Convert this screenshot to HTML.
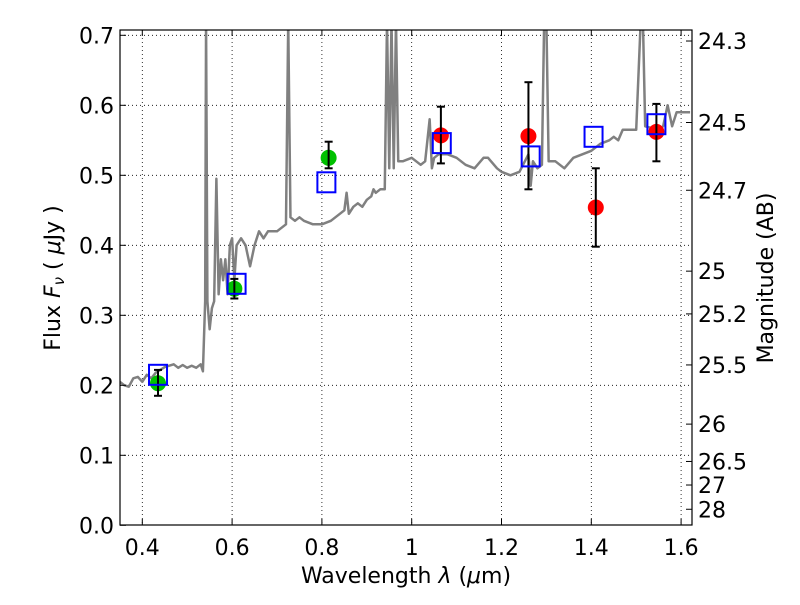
<!DOCTYPE html>
<html><head><meta charset="utf-8"><style>
body{margin:0;background:#fff}
text{font-family:"DejaVu Sans","Liberation Sans",sans-serif;fill:#000}
</style></head><body>
<svg id="chart" width="800" height="600" xmlns="http://www.w3.org/2000/svg">
<rect width="800" height="600" fill="#fff"/>
<g id="grid"></g>
<g id="spec"></g>
<g id="marks"></g>
<rect x="120" y="30" width="572" height="495" fill="none" stroke="#000" stroke-width="1.2"/>
<g id="ticks"></g>
<text x="406" y="583" font-size="22" text-anchor="middle">Wavelength  <tspan font-style="italic">λ</tspan> (<tspan font-style="italic">μ</tspan>m)</text>
<text transform="translate(60,278) rotate(-90)" font-size="22" text-anchor="middle">Flux  <tspan font-style="italic">F</tspan><tspan font-style="italic" font-size="15" dy="4">ν</tspan><tspan dy="-4">  ( </tspan><tspan font-style="italic">μ</tspan>Jy )</text>
<text transform="translate(773,278) rotate(-90)" font-size="22" text-anchor="middle">Magnitude (AB)</text>
</svg>
<script>
const specX=[0.35,0.36,0.37,0.38,0.39,0.40,0.41,0.42,0.43,0.44,0.45,0.46,0.47,0.48,0.49,0.50,0.51,0.52,0.53,0.535,0.54,0.542,0.545,0.55,0.555,0.56,0.565,0.57,0.575,0.58,0.585,0.59,0.595,0.60,0.605,0.61,0.62,0.63,0.64,0.65,0.66,0.67,0.68,0.70,0.71,0.72,0.725,0.73,0.74,0.75,0.76,0.78,0.80,0.82,0.83,0.84,0.85,0.855,0.86,0.87,0.88,0.89,0.90,0.91,0.915,0.92,0.93,0.94,0.945,0.95,0.955,0.96,0.965,0.97,0.98,1.0,1.01,1.02,1.03,1.04,1.045,1.05,1.06,1.08,1.10,1.12,1.14,1.16,1.17,1.19,1.20,1.22,1.24,1.26,1.265,1.27,1.28,1.29,1.295,1.30,1.305,1.32,1.34,1.36,1.38,1.40,1.42,1.44,1.45,1.46,1.47,1.50,1.51,1.515,1.52,1.55,1.56,1.57,1.58,1.59,1.62];
const specY=[0.205,0.2,0.198,0.21,0.212,0.205,0.215,0.21,0.218,0.222,0.226,0.228,0.23,0.225,0.229,0.225,0.228,0.225,0.23,0.22,0.32,0.72,0.32,0.28,0.31,0.32,0.495,0.33,0.38,0.35,0.38,0.33,0.40,0.41,0.35,0.40,0.41,0.40,0.37,0.40,0.42,0.41,0.42,0.42,0.425,0.43,0.72,0.44,0.435,0.44,0.435,0.43,0.43,0.435,0.44,0.445,0.45,0.475,0.445,0.455,0.46,0.455,0.465,0.47,0.48,0.475,0.48,0.48,0.72,0.51,0.72,0.51,0.72,0.52,0.52,0.525,0.52,0.515,0.52,0.58,0.51,0.525,0.53,0.53,0.525,0.515,0.51,0.525,0.525,0.51,0.505,0.5,0.505,0.53,0.485,0.52,0.51,0.515,0.72,0.72,0.52,0.52,0.51,0.525,0.53,0.535,0.545,0.55,0.555,0.55,0.565,0.565,0.72,0.72,0.57,0.565,0.57,0.6,0.57,0.59,0.59];
const ptX=[0.435,0.605,0.815,1.065,1.26,1.41,1.545];
const ptY=[0.203,0.338,0.525,0.557,0.556,0.454,0.562];
const ptLo=[0.185,0.324,0.51,0.517,0.48,0.398,0.52];
const ptHi=[0.222,0.352,0.548,0.598,0.633,0.51,0.602];
const ptColor=['#00c000','#00c000','#00c000','#ff0000','#ff0000','#ff0000','#ff0000'];
const modX=[0.435,0.61,0.81,1.067,1.265,1.405,1.545];
const modY=[0.215,0.345,0.49,0.546,0.527,0.555,0.573];
const xTicks=[0.4,0.6,0.8,1.0,1.2,1.4,1.6];
const xLabels=['0.4','0.6','0.8','1','1.2','1.4','1.6'];
const yTicks=[0,0.1,0.2,0.3,0.4,0.5,0.6,0.7];
const yLabels=['0.0','0.1','0.2','0.3','0.4','0.5','0.6','0.7'];
const magTicks=[24.3,24.5,24.7,25,25.2,25.5,26,26.5,27,28];
const magLabels=['24.3','24.5','24.7','25','25.2','25.5','26','26.5','27','28'];
const NS='http://www.w3.org/2000/svg';
const L=120,R=692,T=30,B=525;
const X=v=>142.3+(v-0.4)*449;
const Y=v=>525.3-v*700;
function mk(t,a,p){const e=document.createElementNS(NS,t);for(const k in a)e.setAttribute(k,a[k]);p.appendChild(e);return e;}
const grid=document.getElementById('grid'),ticks=document.getElementById('ticks'),spec=document.getElementById('spec'),marks=document.getElementById('marks');
xTicks.forEach((v,i)=>{const x=X(v);
 const g=mk('line',{x1:x,x2:x,y1:T,y2:B,stroke:'#000','stroke-width':0.8,'stroke-dasharray':'1,3'},grid);
 
 mk('line',{x1:x,x2:x,y1:B,y2:B-6,stroke:'#000'},ticks);mk('line',{x1:x,x2:x,y1:T,y2:T+6,stroke:'#000'},ticks);
 const t=mk('text',{x:x,y:555,'font-size':22,'text-anchor':'middle'},ticks);t.textContent=xLabels[i];
 });
yTicks.forEach((v,i)=>{const y=Y(v);
 if(v>0){const g=mk('line',{x1:L,x2:R,y1:y,y2:y,stroke:'#000','stroke-width':0.8,'stroke-dasharray':'1,3'},grid);
 }
 mk('line',{x1:L,x2:L+6,y1:y,y2:y,stroke:'#000'},ticks);
 const t=mk('text',{x:114,y:y+8,'font-size':22,'text-anchor':'end'},ticks);t.textContent=yLabels[i];
 });
magTicks.forEach((m,i)=>{const y=Y(Math.pow(10,(23.9-m)/2.5));
 mk('line',{x1:R,x2:R-6,y1:y,y2:y,stroke:'#000'},ticks);
 const t=mk('text',{x:698,y:y+8,'font-size':22},ticks);t.textContent=magLabels[i];
 });
const cp=mk('clipPath',{id:'cp'},document.getElementById('chart'));mk('rect',{x:L,y:T,width:R-L,height:B-T},cp);
spec.setAttribute('clip-path','url(#cp)');
const pl=mk('polyline',{points:specX.map((x,i)=>X(x)+','+Y(specY[i])).join(' '),fill:'none',stroke:'#808080','stroke-width':2.5,'stroke-linejoin':'round'},spec);

ptX.forEach((v,i)=>{const x=X(v);
 const c=mk('circle',{cx:x,cy:Y(ptY[i]),r:8,fill:ptColor[i]},marks);
 
 const e=mk('g',{stroke:'#000','stroke-width':2},marks);
 
 mk('line',{x1:x,x2:x,y1:Y(ptLo[i]),y2:Y(ptHi[i])},e);
 mk('line',{x1:x-4,x2:x+4,y1:Y(ptLo[i]),y2:Y(ptLo[i])},e);
 mk('line',{x1:x-4,x2:x+4,y1:Y(ptHi[i]),y2:Y(ptHi[i])},e);});
modX.forEach((v,i)=>{
 const s=mk('rect',{x:X(v)-9,y:Y(modY[i])-10,width:18,height:20,fill:'none',stroke:'#0000ff','stroke-width':2},marks);
 });
</script>
</body></html>
